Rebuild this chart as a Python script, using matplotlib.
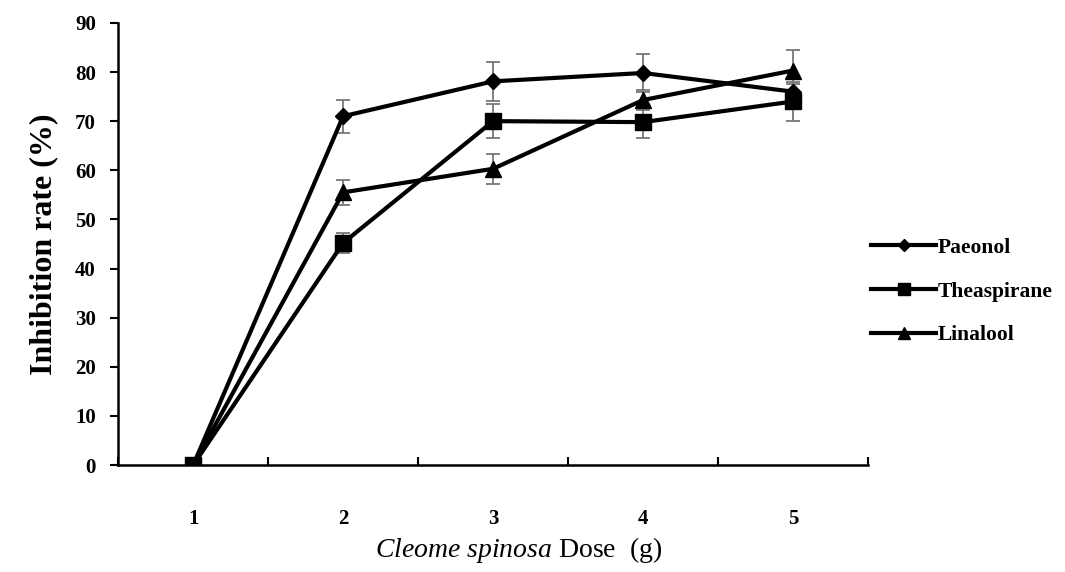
import numpy as np
import matplotlib.pyplot as plt
from matplotlib.lines import Line2D

plt.rcParams['font.family'] = 'Liberation Serif'
plt.rcParams['mathtext.fontset'] = 'custom'
plt.rcParams['mathtext.it'] = 'Liberation Serif:italic'
plt.rcParams['mathtext.rm'] = 'Liberation Serif'

# Data
doses = [1, 2, 3, 4, 5]
paeonol = [0, 71.0, 78.1, 79.8, 76.0]
paeonol_err = [0, 3.4, 4.0, 3.9, 1.5]
theaspirane = [0, 45.2, 70.0, 69.8, 74.0]
theaspirane_err = [0, 2.0, 3.5, 3.3, 3.9]
linalool = [0, 55.5, 60.3, 74.3, 80.3]
linalool_err = [0, 2.6, 3.0, 2.0, 4.2]

series = [
    ("Paeonol", paeonol, paeonol_err, "D", 8.5),
    ("Theaspirane", theaspirane, theaspirane_err, "s", 11),
    ("Linalool", linalool, linalool_err, "^", 11),
]

fig = plt.figure(figsize=(10.65, 5.72), dpi=100)
ax = fig.add_axes([0.111, 0.187, 0.704, 0.773])

x = np.arange(len(doses)) + 1
for name, vals, err, mk, ms in series:
    ax.errorbar(x, vals, yerr=err, fmt="none", ecolor="#777777",
                elinewidth=1.3, capsize=5, capthick=1.3, zorder=2)
    ax.plot(x, vals, color="black", lw=3, marker=mk, markersize=ms,
            label=name, zorder=3)

ax.set_xlim(0.5, 5.5)
ax.set_ylim(0, 90)
ax.set_yticks(np.arange(0, 91, 10))
ax.set_xticks(np.arange(0.5, 5.6, 1))
ax.set_xticklabels([])
ax.set_xticks(x, minor=True)
ax.set_xticklabels([str(d) for d in doses], minor=True)
ax.tick_params(axis="x", which="major", direction="in", length=6, width=1.5)
ax.tick_params(axis="x", which="minor", length=0, pad=32, labelsize=15)
ax.tick_params(axis="y", direction="out", length=6, width=1.5, labelsize=15, pad=10)
for lbl in ax.get_xticklabels(minor=True) + ax.get_yticklabels():
    lbl.set_fontweight("bold")

ax.spines["top"].set_visible(False)
ax.spines["right"].set_visible(False)
ax.spines["left"].set_linewidth(1.8)
ax.spines["bottom"].set_linewidth(1.8)

ax.set_ylabel("Inhibition rate (%)", fontsize=23, fontweight="bold", labelpad=12)
fig.text(0.487, 0.038, r"$\it{Cleome\ spinosa}$ Dose  (g)", fontsize=20,
         ha="center", va="center")

handles = [Line2D([0], [0], color="black", lw=3, marker=mk, markersize=ms * 0.75)
           for _, _, _, mk, ms in series]
leg = fig.legend(handles, [s[0] for s in series], loc="upper left",
                 bbox_to_anchor=(0.8, 0.618), frameon=False,
                 handlelength=3.0, handletextpad=0.1, labelspacing=1.1,
                 prop={"weight": "bold", "size": 15.5})

fig.savefig("out.png", dpi=100)
